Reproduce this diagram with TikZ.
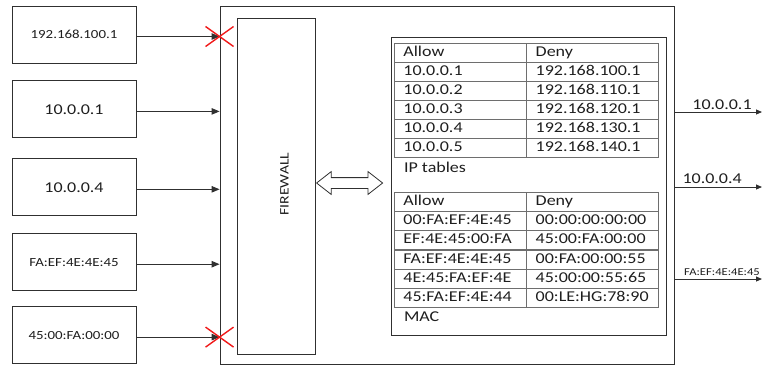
\documentclass[tikz,border=0pt]{standalone}
\usepackage{fontspec}
\setmainfont{Carlito}[FakeStretch=1.2]
\usetikzlibrary{positioning,arrows.meta,shapes.arrows,calc}
\definecolor{cline}{HTML}{303030}
\definecolor{cgrid}{HTML}{6E6E6E}
\definecolor{ctext}{HTML}{1E1E1E}
\definecolor{cred}{HTML}{F01A1A}

\begin{document}
\begin{tikzpicture}[x=1pt, y=-1pt, >={Triangle[length=8pt,width=6.5pt]},
  font=\fontsize{15}{17}\selectfont, text=ctext,
  src/.style={draw=cline, line width=0.9pt, minimum width=124pt, minimum height=57pt, inner sep=0pt},
  small/.style={font=\fontsize{12.4}{14}\selectfont},
  cell/.style={draw=cgrid, line width=0.8pt, anchor=north west, minimum height=19pt, text width=113.5pt, inner xsep=9pt, inner ysep=0pt, align=left, text height=10pt, text depth=3pt},
  link/.style={->, draw=cline, line width=0.9pt},
  deny/.style={draw=cred, line width=1.4pt}]
  \useasboundingbox (0,0) rectangle (762,368);
  % hosts on the left
  \node[src, small] (h1) at (74,34.5) {192.168.100.1};
  \node[src, below=17pt of h1] (h2) {10.0.0.1};
  \node[src, below=20pt of h2] (h3) {10.0.0.4};
  \node[src, small, below=17pt of h3] (h4) {FA:EF:4E:4E:45};
  \node[src, small, below=15pt of h4] (h5) {45:00:FA:00:00};
  % firewall and rule tables
  \node[draw=cline, line width=0.9pt, minimum width=454pt, minimum height=358pt, inner sep=0pt] (frame) at (447,185) {};
  \node[draw=cline, line width=0.9pt, minimum width=78pt, minimum height=336pt, inner sep=0pt] (fw) at (276,186) {};
  \node[font=\fontsize{13}{15}\selectfont] (fwtxt) at ($(fw.center)+(8.5,-2)$) {\rotatebox{90}{FIREWALL}};
  \node[draw=cline, line width=0.8pt, double arrow, double arrow head extend=6pt, double arrow tip angle=76,
    minimum height=66pt, inner sep=5pt, right=0.5pt of fw, yshift=3pt] (dbl) {};
  \node[draw=cline, line width=0.9pt, minimum width=275pt, minimum height=298pt, inner sep=0pt] (tbl) at (528.5,186) {};
  \foreach \i/\a/\d in {0/Allow/Deny,1/10.0.0.1/192.168.100.1,2/10.0.0.2/192.168.110.1,3/10.0.0.3/192.168.120.1,4/10.0.0.4/192.168.130.1,5/10.0.0.5/192.168.140.1}{
    \node[cell] (ipa\i) at (394,{43+19*\i}) {\a};
    \node[cell, right=0pt of ipa\i] (ipd\i) {\d};
  }
  \node[anchor=west] (iplbl) at (400.5,167) {IP tables};
  \foreach \i/\a/\d in {0/Allow/Deny,1/00:FA:EF:4E:45/00:00:00:00:00,2/EF:4E:45:00:FA/45:00:FA:00:00,3/FA:EF:4E:4E:45/00:FA:00:00:55,4/4E:45:FA:EF:4E/45:00:00:55:65,5/45:FA:EF:4E:44/00:LE:HG:78:90}{
    \node[cell] (maca\i) at (394,{192+19.2*\i}) {\a};
    \node[cell, right=0pt of maca\i] (macd\i) {\d};
  }
  \node[anchor=west] (maclbl) at (400.5,317) {MAC};
  % incoming traffic
  \foreach \h in {h1,h2,h3,h4,h5}{\draw[link] ([yshift=-2pt]\h.east) -- ([yshift=-2pt]\h.east -| frame.west);}
  \coordinate (x1) at ([yshift=-2pt]h1.east -| frame.west);
  \coordinate (x5) at ([yshift=-2pt]h5.east -| frame.west);
  \foreach \x in {x1,x5}{
    \draw[deny] ([shift={(-14,-10)}]\x) -- ([shift={(14,10)}]\x) ([shift={(-14,10)}]\x) -- ([shift={(14,-10)}]\x);
  }
  % outgoing traffic
  \coordinate (o1) at (762,112);
  \coordinate (o2) at (762,187);
  \coordinate (o3) at (762,279);
  \foreach \o in {o1,o2,o3}{\draw[link, -{Triangle[length=6pt,width=5pt]}] (\o -| frame.east) -- (\o);}
  \node[anchor=base] (l1) at (722,109) {10.0.0.1};
  \node[anchor=base west] (l2) at (679,183.5) {10.0.0.4};
  \node[font=\fontsize{10.5}{12}\selectfont, inner xsep=1pt, anchor=base west] (l3) at (683,275) {FA:EF:4E:4E:45};
\end{tikzpicture}
\end{document}
